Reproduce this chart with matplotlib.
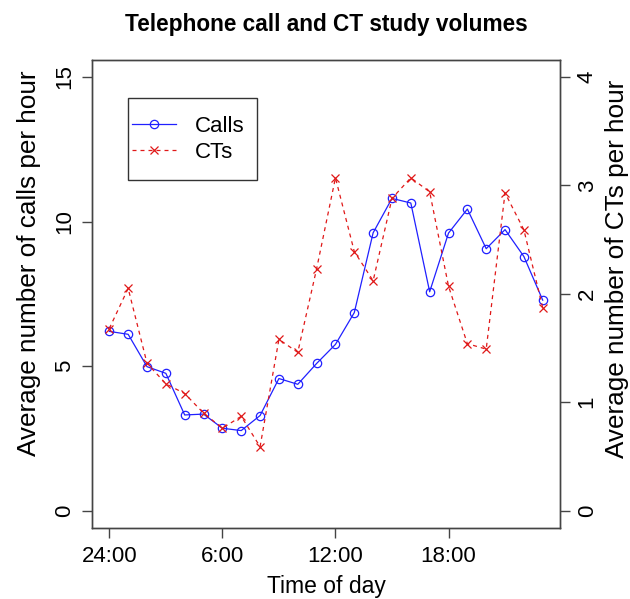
import matplotlib
matplotlib.use("Agg")
import matplotlib.pyplot as plt
from matplotlib.lines import Line2D
from matplotlib.patches import Rectangle

hours = list(range(24))
calls = [6.20, 6.10, 4.98, 4.75, 3.31, 3.34, 2.85, 2.77, 3.29, 4.57, 4.37, 5.09,
         5.75, 6.85, 9.61, 10.80, 10.64, 7.57, 9.60, 10.43, 9.06, 9.72, 8.79, 7.28]
cts = [1.68, 2.05, 1.36, 1.17, 1.08, 0.90, 0.76, 0.87, 0.59, 1.58, 1.46, 2.23,
       3.07, 2.39, 2.12, 2.88, 3.07, 2.94, 2.07, 1.54, 1.49, 2.93, 2.59, 1.87]
xticks = [0, 6, 12, 18]
xticklabels = ["24:00", "6:00", "12:00", "18:00"]
left_ticks = [0, 5, 10, 15]
right_ticks = [0, 1, 2, 3, 4]
series_names = ["Calls", "CTs"]

plt.rcParams['font.family'] = ['Liberation Sans', 'DejaVu Sans']

fig = plt.figure(figsize=(6.30, 5.99), dpi=100)
ax = fig.add_axes([0.146, 0.1185, 0.743, 0.782])
ax2 = ax.twinx()

blue = '#2020ff'
red = '#e01818'
blue_kw = dict(color=blue, lw=0.9, marker='o', ms=6.0, mfc='none', mec=blue, mew=0.9)
red_kw = dict(color=red, lw=0.9, dashes=(3.2, 3.2), marker='x', ms=5.4, mec=red, mew=0.9)

ax.plot(hours, calls, **blue_kw)
ax2.plot(hours, cts, **red_kw)

pad = 0.04
ax.set_xlim(0 - 23 * pad, 23 + 23 * pad)
ax.set_ylim(0 - 15 * pad, 15 + 15 * pad)
ax2.set_ylim(0 - 4 * pad, 4 + 4 * pad)

ax.set_xticks(xticks)
ax.set_xticklabels(xticklabels)
ax.set_yticks(left_ticks)
ax.set_yticklabels([str(v) for v in left_ticks], rotation=90, va='center')
ax2.set_yticks(right_ticks)
ax2.set_yticklabels([str(v) for v in right_ticks], rotation=90, va='center')

for a in (ax, ax2):
    a.tick_params(axis='both', labelsize=16, length=7, width=1, color='#444444', pad=5)
    for s in a.spines.values():
        s.set_linewidth(1.0)
        s.set_color('#444444')
ax.tick_params(axis='x', pad=6)

ax.set_xlabel("Time of day", fontsize=16.5, labelpad=6)
ax.set_ylabel("Average number of calls per hour", fontsize=18.8)
ax.yaxis.label.set_verticalalignment('center')
ax.yaxis.set_label_coords(-0.134, 0.566)
ax2.set_ylabel("Average number of CTs per hour", fontsize=18.8, rotation=90)
ax2.yaxis.label.set_verticalalignment('center')
ax2.yaxis.set_label_coords(1.122, 0.553)
ax.set_title("Telephone call and CT study volumes", fontsize=16.3, fontweight='bold', pad=20.5)

# legend frame (R style) and entries
frame = Rectangle((0.0769, 0.7428), 0.3526 - 0.0769, 0.9178 - 0.7428, transform=ax.transAxes,
                  fill=True, facecolor='white', edgecolor='#333333', lw=1.0, zorder=4)
ax.add_patch(frame)
handles = [Line2D([], [], **blue_kw), Line2D([], [], **red_kw)]
leg = ax.legend(handles, series_names, loc='center left', bbox_to_anchor=(0.086, 0.829),
                borderaxespad=0, borderpad=0, fontsize=16, frameon=False,
                handlelength=1.95, handletextpad=0.85, labelspacing=0.22)
leg.set_zorder(5)

fig.savefig("out.png", dpi=100)
